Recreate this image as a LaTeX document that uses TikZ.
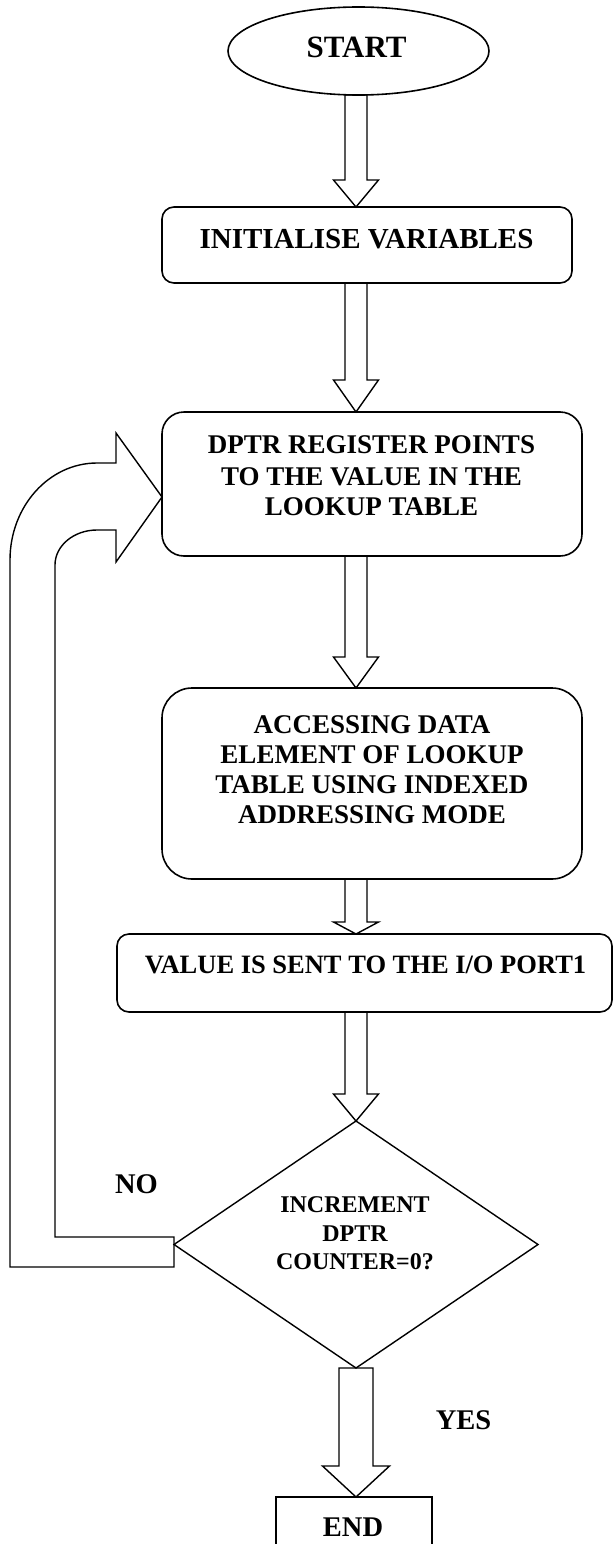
\documentclass[tikz,border=0pt]{standalone}
\usepackage{fontspec}
\setmainfont{Liberation Serif}
\usetikzlibrary{shapes.geometric,calc}
\tikzset{
  box/.style={draw,line width=1.6pt,rounded corners=#1,inner sep=0pt,outer sep=0pt},
  arr/.style={draw,line width=1.4pt,line join=miter},
  lbl/.style={inner sep=0pt,outer sep=0pt,anchor=base,font=\bfseries\fontsize{#1}{#1}\selectfont},
}
\newcommand\flowarrow[5]{%
  \draw[arr] let \p1=(#1.south), \p2=(#2.north), \p3=(axis) in
    (\x3-#3pt,\y1) -- (\x3-#3pt,\y2+#5pt) -- (\x3-#4pt,\y2+#5pt) -- (\x3,\y2)
    -- (\x3+#4pt,\y2+#5pt) -- (\x3+#3pt,\y2+#5pt) -- (\x3+#3pt,\y1) -- cycle;}
\begin{document}
\begin{tikzpicture}[x=1pt,y=-1pt]
\useasboundingbox (0,0) rectangle (613,1544);
\fill[white] (0,0) rectangle (613,1544);
\clip (0,0) rectangle (613,1544);
\coordinate (axis) at (356,0);

% shapes
\node[ellipse,draw,line width=1.6pt,minimum width=261,minimum height=88,inner sep=0pt,outer sep=0pt] (start) at (358.5,51) {};
\node[box=12,minimum width=410,minimum height=76] (init) at (367,245) {};
\node[box=22,minimum width=420,minimum height=144] (dptr) at (372,484) {};
\node[box=30,minimum width=420,minimum height=191] (access) at (372,783.5) {};
\node[box=12,minimum width=495,minimum height=78] (value) at (364.5,973) {};
\node[diamond,draw,line width=1.4pt,minimum width=364,minimum height=247,inner sep=0pt,outer sep=0pt] (dec) at (356,1244.5) {};
\node[draw,line width=1.6pt,minimum width=156,minimum height=83,inner sep=0pt,outer sep=0pt] (end) at (354,1538.5) {};

% texts
\node[lbl=31] (tstart) at (356.5,58) {START};
\node[lbl=29] (tinit) at (366.5,248) {INITIALISE VARIABLES};
\node[lbl=27] (td1) at (371.5,453) {DPTR REGISTER POINTS};
\node[lbl=27] (td2) at (371.5,485) {TO THE VALUE IN THE};
\node[lbl=27] (td3) at (371.5,515) {LOOKUP TABLE};
\node[lbl=27] (ta1) at (372,733) {ACCESSING DATA};
\node[lbl=27] (ta2) at (372,763) {ELEMENT OF LOOKUP};
\node[lbl=27] (ta3) at (372,793) {TABLE USING INDEXED};
\node[lbl=27] (ta4) at (372,823) {ADDRESSING MODE};
\node[lbl=26.5] (tvalue) at (365.5,973) {VALUE IS SENT TO THE I/O PORT1};
\node[lbl=24] (tc1) at (355,1212) {INCREMENT};
\node[lbl=24] (tc2) at (355,1241) {DPTR};
\node[lbl=24] (tc3) at (355,1269) {COUNTER=0?};
\node[lbl=28.5] (tno) at (136.5,1193) {NO};
\node[lbl=28.5] (tyes) at (463.5,1429) {YES};
\node[lbl=28.5] (tend) at (353,1536) {END};

% block arrows
\flowarrow{start}{init}{11}{22.5}{27}
\flowarrow{init}{dptr}{11}{22.5}{32}
\flowarrow{dptr}{access}{11}{22.5}{31}
\flowarrow{access}{value}{11}{22.5}{12}
\flowarrow{value}{dec}{11}{22.5}{27}
\flowarrow{dec}{end}{17}{33.5}{31}

% loop-back arrow (NO)
\draw[arr] ($(dec.west)+(0,22.5)$) -- (10,1267) -- (10,560)
  arc[start angle=180,end angle=270,x radius=87,y radius=97]
  -- (116,463) -- (116,433) -- ($(dptr.west)+(0,13)$) -- (116,562) -- (116,530) -- (97,530)
  arc[start angle=270,end angle=180,x radius=42,y radius=35]
  -- (55,1237) -- ($(dec.west)+(0,-7.5)$) -- cycle;
\end{tikzpicture}
\end{document}
